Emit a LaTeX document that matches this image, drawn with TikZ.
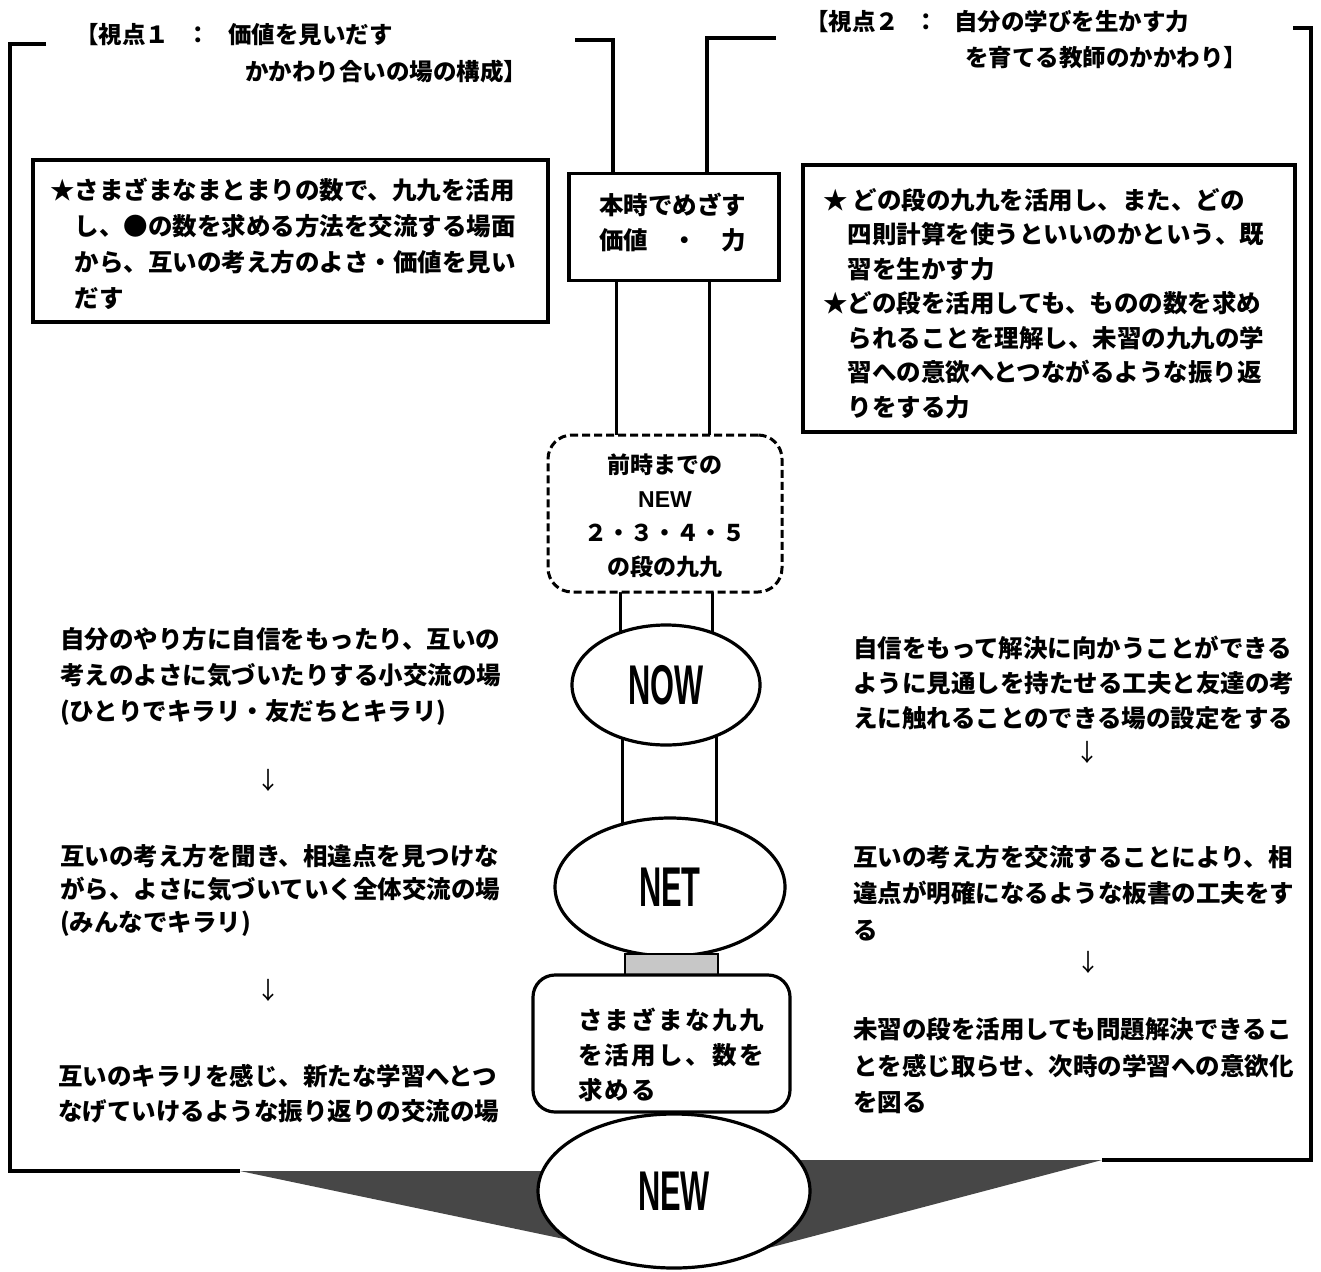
\documentclass[tikz,border=0pt]{standalone}
\usepackage{fontspec}
\usepackage{graphicx}
\newfontfamily\jp{Noto Sans CJK JP}
\newfontfamily\jpw[LetterSpace=10]{Noto Sans CJK JP}
\newfontfamily\lat{Liberation Sans}
\usetikzlibrary{shapes.geometric,backgrounds}
\begin{document}
\begin{tikzpicture}[x=1pt,y=-1pt,
  every node/.style={inner sep=0pt, outer sep=0pt},
  frame/.style={line width=3.2pt},
  col/.style={line width=3pt},
  sqbox/.style={draw, line width=3.2pt, fill=white},
  dbox/.style={draw, line width=3pt, dash pattern=on 8pt off 4pt, rounded corners=24pt, fill=white},
  rbox/.style={draw, line width=3.2pt, rounded corners=22pt, fill=white},
  oval/.style={draw, ellipse, line width=3.2pt, fill=white},
  jt/.style={font=\jp\bfseries\fontsize{24.5}{35}\selectfont, align=left, anchor=west},
  ttl/.style={font=\jp\bfseries\fontsize{23.5}{30}\selectfont, anchor=west},
  arr/.style={font=\jp\fontsize{24}{24}\selectfont},
  wedge/.style={fill=black!72},
]
\useasboundingbox (0,0) rectangle (1321,1271);

% titles
\node[ttl] (t1a) at (75,35) {【視点１\hspace{18pt}：\hspace{18pt}価値を見いだす};
\node[ttl] (t1b) at (245,72) {かかわり合いの場の構成】};
\node[ttl] (t2a) at (805,22) {【視点２\hspace{16pt}：\hspace{16pt}自分の学びを生かす力};
\node[ttl] (t2b) at (965,58) {を育てる教師のかかわり】};

% boxes at top
\node[sqbox, minimum width=515, minimum height=162] (lbox) at (290.5,241) {};
\node[jt, font=\jp\bfseries\fontsize{24.5}{36}\selectfont] (ltext) at (50,244) {★さまざまなまとまりの数で、九九を活用\\　し、●の数を求める方法を交流する場面\\　から、互いの考え方のよさ・価値を見い\\　だす};

\node[sqbox, minimum width=210, minimum height=107] (hb) at (674,227) {};
\node[jt] (htext) at (599,222) {本時でめざす\\価値　・　力};

\node[sqbox, minimum width=492, minimum height=267] (rbx) at (1049,298.5) {};
\node[jt, font=\jp\bfseries\fontsize{24.5}{34.5}\selectfont] (rtext) at (823,303.5) {★\hspace{5pt}どの段の九九を活用し、また、どの\\　四則計算を使うといいのかという、既\\　習を生かす力\\★どの段を活用しても、ものの数を求め\\　られることを理解し、未習の九九の学\\　習への意欲へとつながるような振り返\\　りをする力};

% central column
\node[dbox, minimum width=234, minimum height=157] (dbx) at (665,513.5) {};
\node[font=\jp\bfseries\fontsize{23}{34}\selectfont, align=center] (dtext) at (665,516) {前時までの\\{\lat\bfseries NEW}\\２・３・４・５\\の段の九九};

\node[oval, minimum width=188, minimum height=120] (now) at (666,685) {\scalebox{0.55}[1]{\lat\bfseries\fontsize{56}{56}\selectfont NOW}};
\node[oval, minimum width=230, minimum height=138] (net) at (670,887) {\scalebox{0.55}[1]{\lat\bfseries\fontsize{56}{56}\selectfont NET}};
\node[draw, line width=2.4pt, fill=black!22, minimum width=93, minimum height=22] (st) at (671.5,965) {};
\node[rbox, minimum width=257, minimum height=137] (rb) at (661.5,1043.5) {};
\node[jt, font=\jpw\bfseries\fontsize{24.5}{35}\selectfont] (rbtext) at (578,1055) {さまざまな九九\\を活用し、数を\\求める};
\node[oval, minimum width=272, minimum height=154] (new) at (674,1191) {\scalebox{0.55}[1]{\lat\bfseries\fontsize{56}{56}\selectfont NEW}};

% left paragraphs
\node[jt, font=\jp\bfseries\fontsize{24.5}{36}\selectfont] (l1) at (60,676) {自分のやり方に自信をもったり、互いの\\考えのよさに気づいたりする小交流の場\\(ひとりでキラリ・友だちとキラリ)};
\node[arr] (la1) at (268,780) {↓};
\node[jt, font=\jp\bfseries\fontsize{24.5}{33}\selectfont] (l2) at (60,890) {互いの考え方を聞き、相違点を見つけな\\がら、よさに気づいていく全体交流の場\\(みんなでキラリ)};
\node[arr] (la2) at (268,990) {↓};
\node[jt] (l3) at (58,1094) {互いのキラリを感じ、新たな学習へとつ\\なげていけるような振り返りの交流の場};

% right paragraphs
\node[jt] (r1) at (853,682.5) {自信をもって解決に向かうことができる\\ように見通しを持たせる工夫と友達の考\\えに触れることのできる場の設定をする};
\node[arr] (ra1) at (1087,752) {↓};
\node[jt, font=\jp\bfseries\fontsize{24.5}{36.5}\selectfont] (r2) at (853,893) {互いの考え方を交流することにより、相\\違点が明確になるような板書の工夫をす\\る};
\node[arr] (ra2) at (1088,962) {↓};
\node[jt, font=\jp\bfseries\fontsize{24.5}{36.5}\selectfont] (r3) at (853,1066) {未習の段を活用しても問題解決できるこ\\とを感じ取らせ、次時の学習への意欲化\\を図る};

% column x positions
\coordinate (xa) at (613,0);
\coordinate (xb) at (707,0);
\coordinate (xc) at (616,0);
\coordinate (xd) at (709,0);
\coordinate (xe) at (620,0);
\coordinate (xf) at (712,0);
\coordinate (xg) at (622,0);
\coordinate (xh) at (716,0);

\begin{pgfonlayer}{background}
\fill[white] (0,0) rectangle (1321,1271);
% wedges
\fill[wedge] (240,1171) -- (650,1171) -- (650,1257) -- cycle;
\fill[wedge] (1102,1160) -- (700,1160) -- (700,1266) -- cycle;
% frames
\draw[frame] (46,44) -- (10,44) -- (10,1171) -- (240,1171);
\draw[frame] (575,40) -- (613,40) -- (hb.north -| xa);
\draw[frame] (776,38) -- (707,38) -- (hb.north -| xb);
\draw[frame] (1293,28) -- (1311,28) -- (1311,1160) -- (1102,1160);
% column lines
\draw[col] (hb.south -| xc) -- (dbx.north -| xc);
\draw[col] (hb.south -| xd) -- (dbx.north -| xd);
\draw[col] (dbx.south -| xe) -- (now.center -| xe);
\draw[col] (dbx.south -| xf) -- (now.center -| xf);
\draw[col] (now.center -| xg) -- (net.center -| xg);
\draw[col] (now.center -| xh) -- (net.center -| xh);
\end{pgfonlayer}
\end{tikzpicture}
\end{document}
